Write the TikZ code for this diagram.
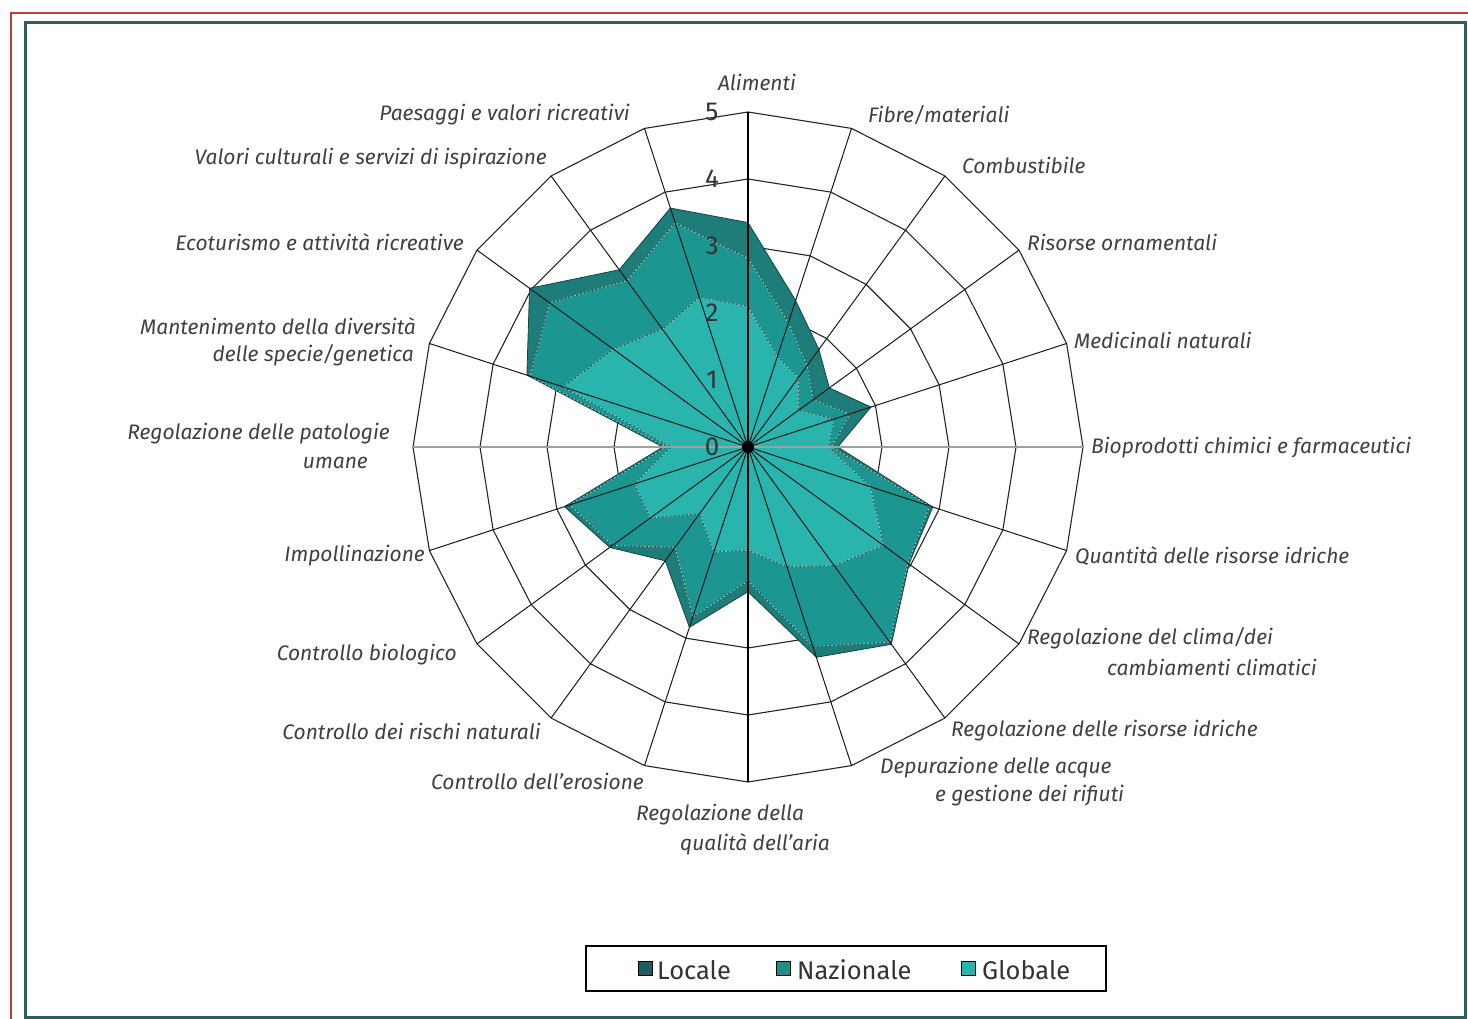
\documentclass[tikz,border=0pt]{standalone}
\usepackage{fontspec}
\setmainfont{Fira Sans}
\usetikzlibrary{calc}
\definecolor{locC}{HTML}{1E7D78}
\definecolor{nazC}{HTML}{1C9691}
\definecolor{gloC}{HTML}{29B4AD}
\definecolor{locL}{HTML}{1C5F5C}
\definecolor{nazL}{HTML}{1F8E89}
\definecolor{gloL}{HTML}{2BB2AC}
\definecolor{edgeD}{HTML}{0F4846}
\definecolor{frameR}{HTML}{C23B35}
\definecolor{frameT}{HTML}{2E5F5E}
\definecolor{txt}{HTML}{404040}
\definecolor{axisG}{HTML}{A0A0A0}
\newcommand\radarpoly[3]{%
  \path[#1] ({-90}:{#2*67}) \foreach \v [count=\i from 1] in {#3} { -- ({\i*18-90}:{\v*67}) } -- cycle;}
\begin{document}
\begin{tikzpicture}[x=1pt,y=-1pt,
  lab/.style={font=\fontsize{21}{24}\selectfont\itshape, text=txt, inner sep=0pt},
  tick/.style={font=\fontsize{26}{29}\selectfont, text=black!80, inner sep=0pt},
  leg/.style={font=\fontsize{25.5}{28}\selectfont, text=black!80, inner sep=0pt, anchor=west},
  ring/.style={draw=black!85, line width=1.1pt},
  radial/.style={draw=black!90, line width=1pt},
  legsq/.style={draw=black, line width=1pt},
  wdash/.style={draw=white, opacity=0.65, line width=0.8pt, dash pattern=on 2pt off 2pt}]
\useasboundingbox (0,0) rectangle (1468,1019);
\fill[white] (0,0) rectangle (1468,1019);
\draw[frameR, line width=2.5pt] (11,1019) -- (11,13) -- (1468,13);
\draw[frameT, line width=3pt] (25,23) rectangle (1465,1017);

\begin{scope}[shift={(748,447)}]
  % rings
  \foreach \k in {1,...,5} {
    \draw[ring] ({-90}:{\k*67}) \foreach \i in {1,...,19} { -- ({\i*18-90}:{\k*67}) } -- cycle;
  }
  % series
  \radarpoly{fill=locC, draw=edgeD, line width=0.8pt}{3.35}{2.3,1.8,1.5,1.93,1.34,2.9,2.97,3.64,3.3,2.16,2.83,2.1,2.55,2.88,1.27,3.47,4.03,3.27,3.75}
  \radarpoly{fill=nazC, draw=edgeD, line width=0.6pt}{2.82}{1.95,1.5,1.2,1.6,1.25,2.85,2.95,3.6,3.13,2.0,2.67,1.85,2.5,2.8,1.22,3.42,3.66,3.07,3.52}
  \radarpoly{wdash}{2.82}{1.95,1.5,1.2,1.6,1.25,2.85,2.95,3.6,3.13,2.0,2.67,1.85,2.5,2.8,1.22,3.42,3.66,3.07,3.52}
  \radarpoly{fill=gloC, draw=edgeD, line width=0.6pt}{2.1}{1.42,1.28,0.93,1.35,1.2,1.92,2.5,2.19,1.88,1.54,1.65,1.23,1.8,1.78,1.15,2.9,2.48,2.17,2.35}
  \radarpoly{wdash}{2.1}{1.42,1.28,0.93,1.35,1.2,1.92,2.5,2.19,1.88,1.54,1.65,1.23,1.8,1.78,1.15,2.9,2.48,2.17,2.35}
  % radials
  \foreach \i in {0,...,19} { \draw[radial] (0,0) -- ({\i*18-90}:335); }
  \draw[axisG, line width=2.5pt] (-335,0) -- (335,0);
  \draw[black, line width=1.5pt] (0,-335) -- (0,335);
  \fill[black] (0,0) circle (6);
  \foreach \k in {0,...,5} { \node[tick] (t\k) at (-36,{-\k*67}) {\k}; }
\end{scope}

% labels
\node[lab] (l0) at (757,82) {Alimenti};
\node[lab, anchor=west] (l1) at (868,115) {Fibre/materiali};
\node[lab, anchor=west] (l2) at (962,165) {Combustibile};
\node[lab, anchor=west] (l3) at (1027,242) {Risorse ornamentali};
\node[lab, anchor=west] (l4) at (1074,340) {Medicinali naturali};
\node[lab, anchor=west] (l5) at (1091,448) {Bioprodotti chimici e farmaceutici};
\node[lab, anchor=west] (l6) at (1075,556) {Quantità delle risorse idriche};
\node[lab, anchor=west] (l7a) at (1027,638) {Regolazione del clima/dei};
\node[lab, anchor=west] (l7b) at (1107,667) {cambiamenti climatici};
\node[lab, anchor=west] (l8) at (951,731) {Regolazione delle risorse idriche};
\node[lab, anchor=west] (l9a) at (880,768) {Depurazione delle acque};
\node[lab, anchor=west] (l9b) at (935,796) {e gestione dei rifiuti};
\node[lab, anchor=west] (l10a) at (636,815) {Regolazione della};
\node[lab, anchor=west] (l10b) at (680,844) {qualità dell’aria};
\node[lab, anchor=east] (l11) at (644,781) {Controllo dell’erosione};
\node[lab, anchor=east] (l12) at (541,731) {Controllo dei rischi naturali};
\node[lab, anchor=east] (l13) at (457,655) {Controllo biologico};
\node[lab, anchor=east] (l14) at (425,556) {Impollinazione};
\node[lab, anchor=east] (l15a) at (390,434) {Regolazione delle patologie};
\node[lab, anchor=east] (l15b) at (368,463) {umane};
\node[lab, anchor=east] (l16a) at (416,326) {Mantenimento della diversità};
\node[lab, anchor=east] (l16b) at (414,355) {delle specie/genetica};
\node[lab, anchor=east] (l17) at (464,242) {Ecoturismo e attività ricreative};
\node[lab, anchor=east] (l18) at (547,159) {Valori culturali e servizi di ispirazione};
\node[lab, anchor=east] (l19) at (630,115) {Paesaggi e valori ricreativi};

% legend
\draw[black, line width=1.5pt] (586,946) rectangle (1106,991);
\filldraw[legsq, fill=locL] (638,961) rectangle (652,975);
\node[leg] (legL) at (657,970) {Locale};
\filldraw[legsq, fill=nazL] (776,961) rectangle (790,975);
\node[leg] (legN) at (797,970) {Nazionale};
\filldraw[legsq, fill=gloL] (961,961) rectangle (975,975);
\node[leg] (legG) at (982,970) {Globale};
\end{tikzpicture}
\end{document}
